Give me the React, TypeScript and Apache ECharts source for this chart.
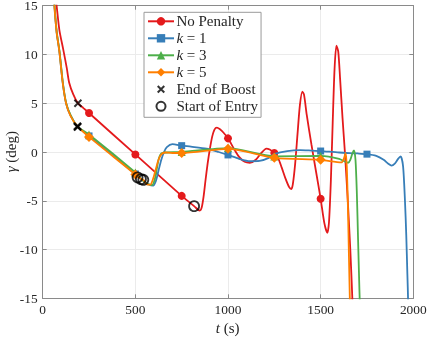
import React, { useEffect, useRef } from "react";
import * as echarts from "echarts";

// ---- Data (t in s, gamma in deg) ----
const noPenalty: number[][] = [
  [55, 22], [62, 17], [75, 15], [90, 12.5], [111, 10.5], [130, 8.6], [143, 7.1], [165, 5.9], [190, 5.0],
  [220, 4.5], [250, 4.0], [500, -0.25], [750, -4.5], [817, -5.55], [840, -5.95], [848, -6.0],
  [858, -5.7], [868, -4.6], [878, -3.0], [890, -1.2], [902, 0.3], [915, 1.6], [927, 2.3], [940, 2.5],
  [955, 2.35], [975, 2.0], [1000, 1.4], [1030, 0.4], [1060, -0.5], [1090, -1.0], [1118, -1.1],
  [1150, -0.8], [1180, -0.1], [1207, 0.35], [1225, 0.25], [1250, -0.1], [1270, -0.6], [1290, -1.6],
  [1310, -2.7], [1330, -3.6], [1342, -3.8], [1350, -3.3], [1362, -1.3], [1375, 1.8], [1388, 4.8],
  [1401, 6.2], [1410, 5.9], [1425, 3.8], [1450, 0.8], [1475, -2.0], [1500, -4.8], [1520, -7.3],
  [1536, -8.3], [1545, -7.2], [1555, -3.0], [1565, 3.0], [1575, 8.5], [1585, 10.9], [1595, 10.3],
  [1605, 7.5], [1618, 3.5], [1630, 0.2], [1645, -4.5], [1660, -10], [1672, -15.5], [1680, -20],
];
const noPenaltyMarkerT = [250, 500, 750, 1000, 1250, 1500];

const k1: number[][] = [
  [45, 22], [55, 17.5], [63, 15], [75, 12.3], [90, 10.3], [108, 7.1], [126, 5.0], [150, 3.75], [189, 2.6],
  [250, 1.65], [500, -2.25], [540, -2.9], [570, -3.3], [596, -3.45], [612, -2.9], [625, -1.9],
  [640, -0.8], [655, 0.0], [670, 0.5], [700, 0.8], [750, 0.65], [800, 0.55], [884, 0.35], [950, 0.0],
  [1000, -0.3], [1060, -0.7], [1118, -0.95], [1170, -0.92], [1220, -0.6], [1252, -0.2], [1320, 0.1],
  [1390, 0.2], [1450, 0.15], [1500, 0.1], [1600, -0.05], [1700, -0.15], [1750, -0.22], [1800, -0.4],
  [1840, -0.8], [1865, -1.2], [1882, -1.4], [1900, -1.2], [1918, -0.7], [1932, -0.45], [1945, -1.5],
  [1955, -5], [1962, -8.5], [1968, -12.5], [1972, -15.3], [1980, -25],
];
const k1MarkerT = [250, 500, 750, 1000, 1250, 1500, 1750];

const k3: number[][] = [
  [46, 22], [56, 17.5], [64, 15], [76, 12.3], [91, 10.3], [109, 7.1], [127, 5.0], [150, 3.8], [187, 2.6],
  [250, 1.8], [500, -2.1], [530, -2.75], [560, -3.2], [590, -3.4], [605, -2.8], [615, -1.8],
  [628, -0.6], [640, -0.15], [660, -0.05], [750, 0.0], [1000, 0.4], [1250, -0.45], [1500, -0.4],
  [1600, -0.7], [1648, -1.1], [1660, -0.8], [1672, -0.1], [1680, 0.17], [1688, -0.8], [1695, -4],
  [1702, -9], [1709, -14], [1714, -17],
];
const k3MarkerT = [250, 500, 750, 1000, 1250, 1500];

const k5: number[][] = [
  [45, 22], [55, 17.5], [63, 15], [75, 12.3], [90, 10.3], [108, 7.1], [126, 5.0], [150, 3.7], [187, 2.65],
  [250, 1.55], [500, -2.3], [515, -2.6], [545, -2.9], [560, -3.3], [580, -3.35], [595, -2.8],
  [610, -1.8], [625, -0.8], [640, -0.25], [660, -0.05], [700, -0.1], [750, -0.1], [1000, 0.33],
  [1250, -0.6], [1500, -0.8], [1612, -1.07], [1625, -0.7], [1635, -0.1], [1641, -1.5], [1647, -5.5],
  [1653, -11], [1658, -15.5], [1664, -20],
];
const k5MarkerT = [250, 500, 750, 1000, 1250, 1500];

const endOfBoost: number[][] = [[190, 5.0], [187, 2.65], [188, 2.55], [189, 2.6]];
const startOfEntry: number[][] = [[817, -5.55], [512, -2.6], [530, -2.78], [543, -2.85]];

const seriesNames = ["No Penalty", "k = 1", "k = 3", "k = 5", "End of Boost", "Start of Entry"];
const xTicks = { min: 0, max: 2000, interval: 500 };
const yTicks = { min: -15, max: 15, interval: 5 };

const COLORS = ["#e41a1c", "#377eb8", "#4daf4a", "#ff7f00"];
const FONT = "Liberation Serif";

const CROSS = "path://M0,0L10,10M10,0L0,10";
const CROSS_LEGEND = "path://M-3,-3L-3,-3M13,13L13,13M0,0L10,10M10,0L0,10";
const CIRCLE_LEGEND =
  "path://M-0.8,-0.8L-0.8,-0.8M10.8,10.8L10.8,10.8M5,0A5,5,0,1,1,5,10A5,5,0,1,1,5,0Z";

function withMarkers(pts: number[][], markerT: number[]) {
  return pts.map((p) =>
    markerT.includes(p[0]) ? { value: p } : { value: p, symbol: "none" }
  );
}

export default function App() {
  const ref = useRef<HTMLDivElement>(null);
  useEffect(() => {
    if (!ref.current) return;
    const chart = echarts.init(ref.current, undefined, { renderer: "svg" });
    const axisGray = "#8a8a8a";
    const textColor = "#262626";
    const lineSeries = (
      name: string,
      data: any[],
      color: string,
      symbol: string,
      symbolSize: number,
      z: number
    ) => ({
      type: "line",
      name,
      data,
      xAxisIndex: 0,
      yAxisIndex: 0,
      symbol,
      symbolSize,
      showAllSymbol: true,
      smooth: 0.25,
      clip: true,
      z,
      lineStyle: { color, width: 1.8 },
      itemStyle: { color, borderWidth: 0 },
      emphasis: { disabled: true },
    });
    const sideAxis = (position: string, ticks: any) => ({
      type: "value",
      position,
      ...ticks,
      axisLine: { show: true, onZero: false, lineStyle: { color: axisGray, width: 1 } },
      axisTick: { show: true, inside: true, length: 4, lineStyle: { color: axisGray } },
      axisLabel: { show: false },
      splitLine: { show: false },
    });
    const mainAxis = (position: string, ticks: any) => ({
      type: "value",
      position,
      ...ticks,
      axisLine: { show: true, onZero: false, lineStyle: { color: axisGray, width: 1 } },
      axisTick: { show: true, inside: true, length: 4, lineStyle: { color: axisGray } },
      axisLabel: {
        color: textColor,
        fontFamily: FONT,
        fontSize: 13.4,
        margin: 5,
        formatter: (v: number) => String(v),
      },
      splitLine: { show: true, lineStyle: { color: "#ebebeb", width: 1 } },
    });
    const richItalic = (size: number) => ({
      i: { fontStyle: "italic", fontFamily: FONT, fontSize: size, fill: textColor, color: textColor },
    });
    const option: any = {
      animation: false,
      textStyle: { fontFamily: FONT },
      grid: {
        left: 42.7,
        right: 13.7,
        top: 5.7,
        bottom: 39.7,
        containLabel: false,
        outerBoundsMode: "none",
      },
      xAxis: [mainAxis("bottom", xTicks), sideAxis("top", xTicks)],
      yAxis: [mainAxis("left", yTicks), sideAxis("right", yTicks)],
      graphic: [
        {
          type: "text",
          x: 227.7,
          y: 328.3,
          silent: true,
          style: {
            text: "{i|t} (s)",
            fontFamily: FONT,
            fontSize: 15,
            fill: textColor,
            align: "center",
            verticalAlign: "middle",
            rich: richItalic(15),
          },
        },
        {
          type: "text",
          x: 11,
          y: 151.7,
          rotation: Math.PI / 2,
          silent: true,
          style: {
            text: "{i|γ} (deg)",
            fontFamily: FONT,
            fontSize: 15,
            fill: textColor,
            align: "center",
            verticalAlign: "middle",
            rich: richItalic(15),
          },
        },
      ],
      legend: {
        data: [
          seriesNames[0],
          seriesNames[1],
          seriesNames[2],
          seriesNames[3],
          { name: seriesNames[4], icon: CROSS_LEGEND },
          { name: seriesNames[5], icon: CIRCLE_LEGEND },
        ],
        orient: "vertical",
        left: 144,
        top: 12.3,
        padding: [1.5, 3, 3.5, 3],
        itemWidth: 26,
        itemHeight: 10.5,
        itemGap: 2,
        backgroundColor: "#ffffff",
        borderColor: "#9a9a9a",
        borderWidth: 1,
        borderRadius: 0,
        selectedMode: false,
        textStyle: {
          color: textColor,
          fontFamily: FONT,
          fontSize: 15,
          lineHeight: 15,
          padding: [0, 0, 0, -2.6],
          rich: {
            i: { fontStyle: "italic", fontFamily: FONT, fontSize: 15, lineHeight: 15, color: textColor },
          },
        },
        formatter: (name: string) =>
          name.startsWith("k = ") ? `{i|k} = ${name.slice(4)}` : name,
      },
      series: [
        lineSeries(seriesNames[0], withMarkers(noPenalty, noPenaltyMarkerT), COLORS[0], "circle", 8, 2),
        lineSeries(seriesNames[1], withMarkers(k1, k1MarkerT), COLORS[1], "rect", 7, 3),
        lineSeries(seriesNames[2], withMarkers(k3, k3MarkerT), COLORS[2], "triangle", 8, 4),
        lineSeries(seriesNames[3], withMarkers(k5, k5MarkerT), COLORS[3], "diamond", 10, 5),
        {
          type: "scatter",
          name: seriesNames[4],
          data: endOfBoost,
          symbol: CROSS,
          symbolSize: 7,
          z: 10,
          itemStyle: { color: "#000", borderColor: "#000", borderWidth: 2 },
          emphasis: { disabled: true },
        },
        {
          type: "scatter",
          name: seriesNames[5],
          data: startOfEntry,
          symbol: "circle",
          symbolSize: 10,
          z: 10,
          itemStyle: { color: "rgba(0,0,0,0)", borderColor: "#000", borderWidth: 1.8 },
          emphasis: { disabled: true },
        },
      ],
    };
    chart.setOption(option);
    return () => chart.dispose();
  }, []);
  return (
    <div
      ref={ref}
      style={{ position: "fixed", left: 0, top: 0, width: 427, height: 338, overflow: "hidden" }}
    />
  );
}
